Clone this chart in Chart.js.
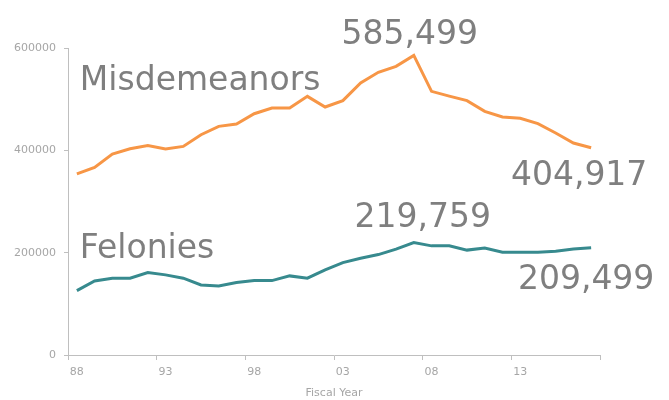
<!DOCTYPE html>
<html>
<head>
<meta charset="utf-8">
<script src="https://cdn.jsdelivr.net/npm/chart.js@4/dist/chart.umd.min.js"></script>
<style>
  html, body { margin: 0; padding: 0; background: #ffffff; }
  #wrap { width: 669px; height: 400px; }
</style>
</head>
<body>
<div id="wrap"><canvas id="c" width="669" height="400"></canvas></div>
<script>
// Fiscal years 1988-2017
const categories = ['88','89','90','91','92','93','94','95','96','97','98','99','00','01','02',
                    '03','04','05','06','07','08','09','10','11','12','13','14','15','16','17'];
const shownTicks = ['88','93','98','03','08','13'];
const yTicks = [0, 200000, 400000, 600000];

const misdemeanors = [354000, 366600, 392800, 403100, 409600, 402600, 407700, 430500, 446800, 451500,
                      471600, 482800, 482800, 505500, 484700, 497100, 531700, 552500, 564200, 585499,
                      515300, 505900, 497100, 476200, 465200, 462500, 452100, 433900, 414300, 404917];
const felonies = [125800, 144800, 150100, 150100, 161100, 156600, 150100, 137000, 135000, 141500,
                  145400, 145400, 154600, 150100, 166300, 180600, 189200, 196300, 206900, 219759,
                  213300, 213300, 205000, 209000, 201000, 201000, 201000, 203000, 207000, 209499];

const seriesNames = ['Misdemeanors', 'Felonies'];

const fmt = v => v.toLocaleString('en-US');

const annotate = {
  id: 'annotate',
  afterDatasetsDraw(chart) {
    const ctx = chart.ctx;
    const xs = chart.scales.x, ys = chart.scales.y;
    const px = i => xs.getPixelForValue(i);
    const py = v => ys.getPixelForValue(v);
    ctx.save();
    ctx.fillStyle = '#7f7f7f';
    ctx.font = '33px "DejaVu Sans"';
    ctx.textBaseline = 'alphabetic';
    // series names
    ctx.textAlign = 'left';
    ctx.fillText(seriesNames[0], px(0) + 3, py(misdemeanors[0]) - 84);
    ctx.fillText(seriesNames[1], px(0) + 3, py(felonies[0]) - 33);
    // peak / last values
    const mPeak = misdemeanors.indexOf(Math.max(...misdemeanors));
    const fPeak = felonies.indexOf(Math.max(...felonies));
    const last = categories.length - 1;
    ctx.textAlign = 'center';
    ctx.fillText(fmt(misdemeanors[mPeak]), px(mPeak) - 4, py(misdemeanors[mPeak]) - 11);
    ctx.fillText(fmt(misdemeanors[last]), px(last) - 12, py(misdemeanors[last]) + 37);
    ctx.fillText(fmt(felonies[fPeak]), px(fPeak) + 9, py(felonies[fPeak]) - 16);
    ctx.fillText(fmt(felonies[last]), px(last) - 5, py(felonies[last]) + 41);
    ctx.restore();
  }
};

const axisGray = '#bfbfbf';
const tickGray = '#a6a6a6';

const xGridColor = (ctx) => {
  if (ctx.index === undefined || ctx.type !== 'tick') return axisGray;
  return ctx.index % 5 === 0 ? axisGray : 'rgba(0,0,0,0)';
};

new Chart(document.getElementById('c'), {
  type: 'line',
  data: {
    labels: categories,
    datasets: [
      { label: seriesNames[0], data: misdemeanors, borderColor: '#f79646', borderWidth: 3,
        pointRadius: 0, tension: 0, fill: false },
      { label: seriesNames[1], data: felonies, borderColor: '#378a8e', borderWidth: 3,
        pointRadius: 0, tension: 0, fill: false }
    ]
  },
  options: {
    responsive: false,
    animation: false,
    devicePixelRatio: 1,
    layout: { padding: { left: 0, right: 69, top: 48, bottom: 0 } },
    plugins: { legend: { display: false }, tooltip: { enabled: false } },
    scales: {
      x: {
        type: 'category',
        offset: true,
        grid: { offset: true, drawOnChartArea: false, drawTicks: true, tickLength: 5,
                color: xGridColor, tickColor: xGridColor },
        border: { display: true, color: axisGray, width: 1 },
        ticks: {
          autoSkip: false, maxRotation: 0, padding: 6,
          color: tickGray, font: { family: '"DejaVu Sans"', size: 11 },
          callback: function (val, idx) {
            const l = categories[idx];
            return shownTicks.includes(l) ? l : '';
          }
        },
        title: { display: true, text: 'Fiscal Year', color: tickGray,
                 font: { family: '"DejaVu Sans"', size: 11 }, padding: { top: 4, bottom: 0 } },
        afterFit: s => { s.height = 45; }
      },
      y: {
        min: 0, max: 600000,
        grid: { drawOnChartArea: false, drawTicks: true, tickLength: 4, color: axisGray },
        border: { display: true, color: axisGray, width: 1 },
        afterBuildTicks: s => { s.ticks = yTicks.map(v => ({ value: v })); },
        ticks: { color: tickGray, padding: 8, font: { family: '"DejaVu Sans"', size: 11 },
                 callback: v => String(v) },
        afterFit: s => { s.width = 68; }
      }
    }
  },
  plugins: [annotate]
});
</script>
</body>
</html>
